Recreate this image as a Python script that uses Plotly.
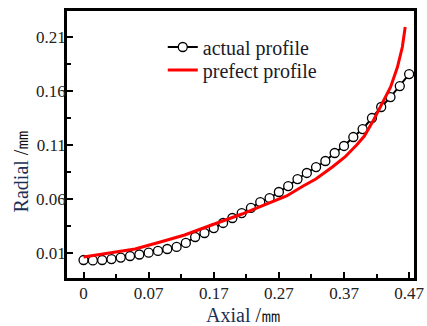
import plotly.graph_objects as go

# Axial positions (axis units), tick labels as printed
x_tick_vals = [-0.03, 0.07, 0.17, 0.27, 0.37, 0.47]
x_tick_text = ["0", "0.07", "0.17", "0.27", "0.37", "0.47"]
y_tick_vals = [0.01, 0.06, 0.11, 0.16, 0.21]
y_tick_text = ["0.01", "0.06", "0.11", "0.16", "0.21"]

# actual profile (circles)
actual_x = [-0.03, -0.0157, -0.0014, 0.0129, 0.0271, 0.0414, 0.0557, 0.07,
            0.0843, 0.0986, 0.1129, 0.1271, 0.1414, 0.1557, 0.17, 0.1843,
            0.1986, 0.2129, 0.2271, 0.2414, 0.2557, 0.27, 0.2843, 0.2986,
            0.3129, 0.3271, 0.3414, 0.3557, 0.37, 0.3843, 0.3986, 0.4129,
            0.4271, 0.4414, 0.4557, 0.47]
actual_y = [0.0035, 0.0031, 0.0035, 0.0044, 0.0058, 0.0072, 0.0086, 0.0103,
            0.0119, 0.0137, 0.0156, 0.0193, 0.0248, 0.0285, 0.0331, 0.0378,
            0.0424, 0.0470, 0.0517, 0.0572, 0.0609, 0.0665, 0.0720, 0.0785,
            0.0841, 0.0896, 0.0952, 0.1026, 0.1091, 0.1174, 0.1248, 0.1350,
            0.1452, 0.1544, 0.1646, 0.1757]

# perfect profile (red line)
perfect_x = [-0.03, 0.0088, 0.0491, 0.0879, 0.1252, 0.1625, 0.1924, 0.2133,
             0.2431, 0.2670, 0.2819, 0.3073, 0.3267, 0.3521, 0.3715, 0.3894,
             0.4013, 0.4163, 0.4267, 0.4416, 0.4521, 0.4596, 0.4640]
perfect_y = [0.0063, 0.0100, 0.0137, 0.0202, 0.0267, 0.0350, 0.0415, 0.0461,
             0.0535, 0.0591, 0.0628, 0.0720, 0.0785, 0.0896, 0.0989, 0.1100,
             0.1183, 0.1341, 0.1461, 0.1637, 0.1822, 0.2007, 0.2193]

FONT = "Liberation Serif, Times New Roman, serif"

fig = go.Figure()
fig.add_trace(go.Scatter(
    x=actual_x, y=actual_y, mode="lines+markers", name="actual profile",
    line=dict(color="black", width=2),
    marker=dict(symbol="circle", size=9, color="white",
                line=dict(color="black", width=1.3)),
    legend="legend",
))
fig.add_trace(go.Scatter(
    x=perfect_x, y=perfect_y, mode="lines", name="prefect profile",
    line=dict(color="#ff0000", width=3),
    legend="legend2",
))

axis_common = dict(
    showline=True, linecolor="black", linewidth=2.5, mirror=True,
    ticks="inside", ticklen=6, tickwidth=2, tickcolor="black",
    showgrid=False, zeroline=False, ticklabeloverflow="allow",
    tickfont=dict(family=FONT, size=17, color="#222"),
    minor=dict(ticks="inside", ticklen=4, tickwidth=2, tickcolor="black"),
)

fig.update_xaxes(range=[-0.0554, 0.4775], tickmode="array",
                 tickvals=x_tick_vals, ticktext=x_tick_text,
                 ticklabelstandoff=-2,
                 **axis_common)
fig.update_xaxes(minor=dict(tickvals=[0.02, 0.12, 0.22, 0.32, 0.42]))
fig.update_yaxes(range=[-0.01315, 0.2341], tickmode="array",
                 tickvals=y_tick_vals, ticktext=y_tick_text,
                 ticklabelstandoff=-5,
                 **axis_common)
fig.update_yaxes(minor=dict(tickvals=[0.035, 0.085, 0.135, 0.185]))

fig.add_annotation(text="<span style='color:#1c2f55'>Axial</span> /㎜",
                   xref="paper", yref="paper", x=0.51, y=-0.14,
                   showarrow=False, yanchor="middle",
                   font=dict(family=FONT, size=20, color="#111"))
fig.add_annotation(text="<span style='color:#1c2f55'>Radial</span> /㎜",
                   xref="paper", yref="paper", x=-0.132, y=0.40,
                   showarrow=False, textangle=-90, xanchor="center",
                   yanchor="middle",
                   font=dict(family=FONT, size=20, color="#111"))

legend_common = dict(xanchor="left", yanchor="middle",
                     bgcolor="rgba(0,0,0,0)",
                     font=dict(family=FONT, size=20, color="#1a1a2a"),
                     itemwidth=30)

fig.update_layout(
    width=427, height=326,
    margin=dict(l=67, r=3, t=11, b=48),
    paper_bgcolor="white", plot_bgcolor="white",
    showlegend=True,
    legend=dict(x=0.276, y=1 - (47 - 11) / 267, **legend_common),
    legend2=dict(x=0.276, y=1 - (70 - 11) / 267, **legend_common),
)

fig.write_html("out.html")
